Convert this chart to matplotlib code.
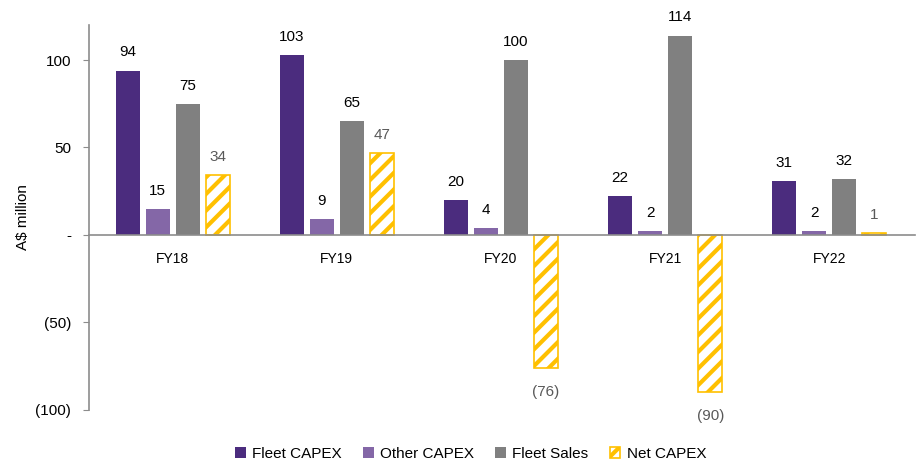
import numpy as np
import matplotlib.pyplot as plt

plt.rcParams['font.family'] = ['Liberation Sans', 'DejaVu Sans']
plt.rcParams['hatch.linewidth'] = 3.0

years = ['FY18', 'FY19', 'FY20', 'FY21', 'FY22']
fleet_capex = [94, 103, 20, 22, 31]
other_capex = [15, 9, 4, 2, 2]
fleet_sales = [75, 65, 100, 114, 32]
net_capex = [34, 47, -76, -90, 1]

yticks = [-100, -50, 0, 50, 100]


def fmt(v):
    if v == 0:
        return '-'
    if v < 0:
        return '(%d)' % abs(v)
    return '%d' % v


fig = plt.figure(figsize=(9.23, 4.63), dpi=100)
ax = fig.add_axes([0.0964, 0.1145, 0.8946, 0.8315])

x = np.arange(len(years))
w = 0.146
step = 0.183
fs = 11

series = [
    ('Fleet CAPEX', fleet_capex, '#4B2C7E'),
    ('Other CAPEX', other_capex, '#8467A7'),
    ('Fleet Sales', fleet_sales, '#808080'),
]
for i, (name, vals, col) in enumerate(series):
    pos = x + (i - 1.5) * step
    ax.bar(pos, vals, w, color=col, label=name, zorder=2)
    for p, v in zip(pos, vals):
        ax.annotate(fmt(v), (p, v), xytext=(0, 8), textcoords='offset points',
                    ha='center', va='bottom', fontsize=fs, color='black')

pos = x + 1.5 * step
ax.bar(pos, net_capex, w, color='white', edgecolor='#FFC000', hatch='//',
       linewidth=1.2, label='Net CAPEX', zorder=2)
for p, v in zip(pos, net_capex):
    if v >= 0:
        ax.annotate(fmt(v), (p, v), xytext=(0, 8), textcoords='offset points',
                    ha='center', va='bottom', fontsize=fs, color='#595959')
    else:
        ax.annotate(fmt(v), (p, v), xytext=(0, -12), textcoords='offset points',
                    ha='center', va='top', fontsize=fs, color='#595959')

ax.set_xlim(-0.51, 4.52)
ax.set_ylim(-100, 120)
ax.set_yticks(yticks)
ax.set_yticklabels([fmt(v) for v in yticks], fontsize=fs)
ax.set_xticks(x)
ax.set_xticklabels(years, fontsize=fs)
ax.tick_params(axis='x', length=0, pad=12)
ax.tick_params(axis='y', length=4, color='#8C8C8C', pad=9)

for s in ['top', 'right']:
    ax.spines[s].set_visible(False)
ax.spines['bottom'].set_position(('data', 0))
ax.spines['bottom'].set_color('#8C8C8C')
ax.spines['left'].set_color('#8C8C8C')
ax.spines['bottom'].set_linewidth(1.2)
ax.spines['left'].set_linewidth(1.2)

ax.set_ylabel('A\\$ million', fontsize=fs, va='center')
ax.yaxis.set_label_coords(-0.08, 0.5)

fig.legend(loc='lower center', bbox_to_anchor=(0.51, -0.025), ncol=4, frameon=False,
           fontsize=fs, handlelength=0.7, handleheight=0.7, handletextpad=0.4,
           columnspacing=1.4)

fig.savefig('out.png', dpi=100)
